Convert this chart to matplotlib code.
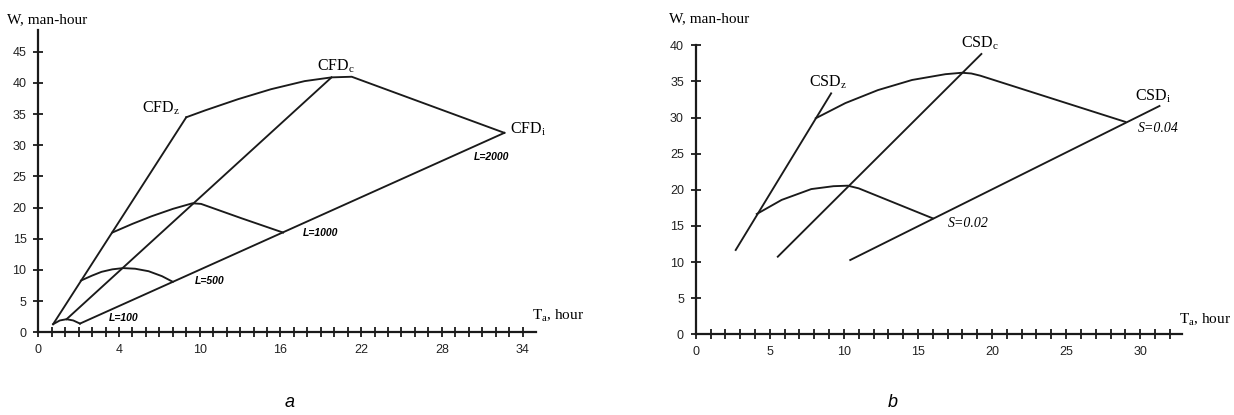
import matplotlib
matplotlib.use("Agg")
import matplotlib.pyplot as plt

plt.rcParams["mathtext.fontset"] = "custom"
plt.rcParams["mathtext.rm"] = "Liberation Serif"
plt.rcParams["mathtext.it"] = "Liberation Serif:italic"

# ---- chart a (x in tick units, labels are uneven in the source) ----
a_tick_pos = [0, 6, 12, 18, 24, 30, 36]
a_tick_lbl = ["0", "4", "10", "16", "22", "28", "34"]

cfd_z_t = [1.1, 11.0]
cfd_z_w = [1.3, 34.5]
cfd_c_t = [2.1, 21.8]
cfd_c_w = [2.1, 40.9]
cfd_i_t = [3.1, 34.65]
cfd_i_w = [1.4, 32.0]

l100_t = [1.1, 1.6, 2.1, 2.6, 3.1]
l100_w = [1.3, 1.9, 2.1, 1.9, 1.4]
l500_t = [3.17, 4.0, 4.7, 5.5, 6.3, 7.2, 8.2, 9.2, 10.0]
l500_w = [8.3, 9.1, 9.7, 10.1, 10.3, 10.2, 9.8, 9.0, 8.1]
l1000_t = [5.5, 7.0, 8.4, 10.0, 11.46, 12.1, 15.1, 18.2]
l1000_w = [16.0, 17.4, 18.6, 19.8, 20.7, 20.6, 18.3, 16.0]
l2000_t = [11.0, 12.4, 14.85, 17.3, 19.8, 21.8, 23.3, 34.65]
l2000_w = [34.5, 35.6, 37.4, 39.0, 40.3, 40.9, 41.0, 32.0]

# ---- chart b ----
csd_z_t = [2.7, 9.14]
csd_z_w = [11.67, 33.35]
csd_c_t = [5.54, 19.28]
csd_c_w = [10.74, 38.8]
csd_i_t = [10.43, 31.3]
csd_i_w = [10.28, 31.6]

s002_t = [4.12, 5.8, 7.8, 9.3, 10.27, 11.0, 16.0]
s002_w = [16.65, 18.6, 20.1, 20.5, 20.57, 20.2, 16.05]
s004_t = [8.1, 10.1, 12.3, 14.6, 16.85, 17.97, 18.6, 19.2, 29.0]
s004_w = [29.9, 32.0, 33.8, 35.2, 36.0, 36.2, 36.1, 35.8, 29.4]

W, H = 1234, 415
fig = plt.figure(figsize=(W / 100, H / 100), dpi=100)

ax1 = fig.add_axes([38.3 / W, (H - 332.3) / H, (536 - 38.3) / W, (332.3 - 30) / H])
ax2 = fig.add_axes([695.7 / W, (H - 334.3) / H, (1181.7 - 695.7) / W, (334.3 - 45.3) / H])

lc = "#1a1a1a"
lw = 1.35

for x, y in [(cfd_z_t, cfd_z_w), (cfd_c_t, cfd_c_w), (cfd_i_t, cfd_i_w),
             (l100_t, l100_w), (l500_t, l500_w), (l1000_t, l1000_w), (l2000_t, l2000_w)]:
    ax1.plot(x, y, color=lc, lw=lw, solid_joinstyle="round")

for x, y in [(csd_z_t, csd_z_w), (csd_c_t, csd_c_w), (csd_i_t, csd_i_w),
             (s002_t, s002_w), (s004_t, s004_w)]:
    ax2.plot(x, y, color=lc, lw=lw, solid_joinstyle="round")


def style(ax):
    for s in ["top", "right"]:
        ax.spines[s].set_visible(False)
    for s in ["left", "bottom"]:
        ax.spines[s].set_linewidth(1.6)
        ax.spines[s].set_color(lc)
    ax.tick_params(which="both", direction="inout", width=1.3, color=lc,
                   labelsize=9, pad=5, length=7)
    for lab in ax.get_xticklabels() + ax.get_yticklabels():
        lab.set_family("Liberation Sans")
        lab.set_color("#222222")


ax1.set_xlim(0, 37)
ax1.set_ylim(0, 48.5)
ax1.set_xticks(a_tick_pos)
ax1.set_xticklabels(a_tick_lbl)
ax1.set_xticks(range(0, 37), minor=True)
ax1.set_yticks(range(0, 50, 5))
style(ax1)

ax2.set_xlim(0, 32.8)
ax2.set_ylim(0, 40)
ax2.set_xticks(range(0, 35, 5))
ax2.set_xticks(range(0, 33), minor=True)
ax2.set_yticks(range(0, 45, 5))
style(ax2)

serif = "Liberation Serif"
# curve names
ax1.text(9.12, 36.0, r"CFD$_{\mathrm{z}}$", family=serif, fontsize=11.5, ha="center", va="center")
ax1.text(22.1, 42.6, r"CFD$_{\mathrm{c}}$", family=serif, fontsize=11.5, ha="center", va="center")
ax1.text(35.1, 32.6, r"CFD$_{\mathrm{i}}$", family=serif, fontsize=11.5, ha="left", va="center",
         clip_on=False)
for txt, x, y in [("L=100", 6.37, 2.3), ("L=500", 12.7, 8.2),
                  ("L=1000", 21.0, 15.9), ("L=2000", 33.7, 28.1)]:
    ax1.text(x, y, txt, family="Liberation Sans", style="italic", fontsize=7.5,
             weight="semibold", ha="center", va="center")
ax1.text(36.7, 2.6, r"T$_{\mathrm{a}}$, hour", family=serif, fontsize=11, ha="left",
         va="center", clip_on=False)

ax2.text(8.93, 34.9, r"CSD$_{\mathrm{z}}$", family=serif, fontsize=11.5, ha="center", va="center")
ax2.text(19.2, 40.3, r"CSD$_{\mathrm{c}}$", family=serif, fontsize=11.5, ha="center", va="center",
         clip_on=False)
ax2.text(30.9, 33.0, r"CSD$_{\mathrm{i}}$", family=serif, fontsize=11.5, ha="center", va="center")
ax2.text(31.2, 28.5, "S=0.04", family=serif, style="italic", fontsize=10, ha="center", va="center",
         clip_on=False)
ax2.text(18.4, 15.3, "S=0.02", family=serif, style="italic", fontsize=10, ha="center", va="center")
ax2.text(32.6, 2.0, r"T$_{\mathrm{a}}$, hour", family=serif, fontsize=11, ha="left",
         va="center", clip_on=False)

fig.text(7 / W, 1 - 20 / H, "W, man-hour", family=serif, fontsize=11, ha="left", va="center")
fig.text(669 / W, 1 - 19 / H, "W, man-hour", family=serif, fontsize=11, ha="left", va="center")

fig.text(290 / W, 1 - 402 / H, "a", family="Liberation Sans", style="italic", fontsize=13,
         ha="center", va="center")
fig.text(893 / W, 1 - 402 / H, "b", family="Liberation Sans", style="italic", fontsize=13,
         ha="center", va="center")

fig.savefig("out.png", dpi=100)
